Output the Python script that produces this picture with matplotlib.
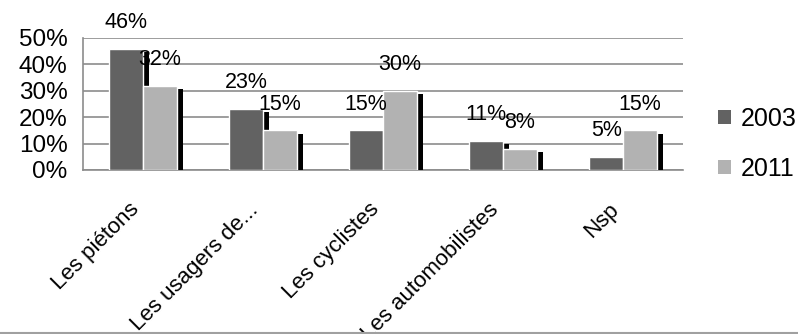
import matplotlib
matplotlib.use("Agg")
import matplotlib.pyplot as plt
import matplotlib.patheffects as pe
from matplotlib.lines import Line2D
from matplotlib.patches import Patch
import numpy as np

# Data
categories = ["Les piétons", "Les usagers de...", "Les cyclistes",
              "Les automobilistes", "Nsp"]
series_names = ["2003", "2011"]
values_2003 = [46, 23, 15, 11, 5]
values_2011 = [32, 15, 30, 8, 15]
y_ticks = [0, 10, 20, 30, 40, 50]

colors = ["#626262", "#b2b2b2"]

plt.rcParams["font.family"] = ["Liberation Sans", "DejaVu Sans"]

fig = plt.figure(figsize=(7.98, 3.34), dpi=100)
ax = fig.add_axes([83 / 798, 1 - 170 / 334, 600 / 798, 132 / 334])

x = np.arange(len(categories))
width = 0.28
shadow = [pe.SimplePatchShadow(offset=(4.6, -2.3), shadow_rgbFace="black", alpha=1.0),
          pe.Normal()]

for k, vals in enumerate([values_2003, values_2011]):
    pos = x + (k - 0.5) * width
    bars = ax.bar(pos, vals, width, color=colors[k], edgecolor="white",
                  linewidth=1, zorder=3 + k)
    for b in bars:
        b.set_path_effects(shadow)
    for p, v in zip(pos, vals):
        ax.annotate(f"{v}%", (p, v), xytext=(0, 19), textcoords="offset points",
                    ha="center", va="center", fontsize=15.5, zorder=10)

ax.set_xlim(-0.5, len(categories) - 0.5)
ax.set_ylim(0, 50)
ax.set_yticks(y_ticks)
ax.set_yticklabels([f"{t}%" for t in y_ticks], fontsize=17.5)
ax.set_xticks(x)
ax.set_xticklabels(categories, fontsize=16, rotation=45, ha="right", va="top")
ax.tick_params(axis="y", length=0, pad=11)
ax.tick_params(axis="x", length=0, pad=21)

ax.grid(axis="y", color="#8c8c8c", linewidth=1.2, zorder=0)
ax.set_axisbelow(True)
for s in ["top", "right"]:
    ax.spines[s].set_visible(False)
for s in ["left", "bottom"]:
    ax.spines[s].set_color("#8c8c8c")
    ax.spines[s].set_linewidth(1.2)

handles = [Patch(facecolor=c, edgecolor="none") for c in colors]
fig.legend(handles, series_names, loc="center left",
           bbox_to_anchor=(718 / 798, 1 - 144 / 334), bbox_transform=fig.transFigure,
           frameon=False, fontsize=18, handlelength=0.5, handleheight=0.5,
           handletextpad=0.4, labelspacing=1.05, borderpad=0, borderaxespad=0)

fig.add_artist(Line2D([0, 1], [0.0015, 0.0015], transform=fig.transFigure,
                      color="#a0a0a0", linewidth=1.5))

fig.savefig("out.png", dpi=100)
